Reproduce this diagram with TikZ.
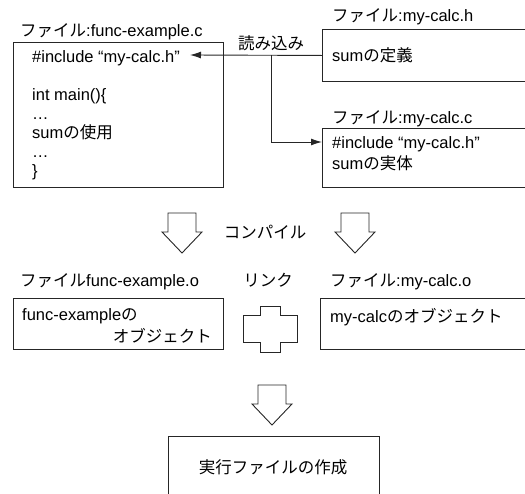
\documentclass[tikz,border=0pt]{standalone}
\usepackage{fontspec}
\setmainfont{Liberation Sans}
\newfontfamily\jp{Noto Sans CJK JP}
\usetikzlibrary{arrows.meta}
\tikzset{
  txt/.style={anchor=base west, inner sep=0pt, font=\fontsize{16.5}{19}\selectfont},
  ctxt/.style={txt, anchor=base},
  box/.style={draw=black!85, line width=0.9pt, anchor=north west, inner sep=0pt},
  conn/.style={draw=black!85, line width=0.9pt},
  tip/.style={-{Latex[length=11pt,width=7pt]}},
  hollowdown/.pic={\draw[black!85, line width=0.9pt, fill=white]
     (-14,0) -- (14,0) -- (14,19) -- (20,19) -- (0,40) -- (-20,19) -- (-14,19) -- cycle;}
}
\begin{document}
\begin{tikzpicture}[x=1pt,y=-1pt]
\useasboundingbox (0,0) rectangle (525,493);
% top left file
\node[txt] (t1) at (20,36) {{\jp ファイル}:func-example.c};
\node[box, minimum width=210pt, minimum height=145pt] (f1) at (13,42) {};
\node[txt] (l1) at (32,62) {\#include “my-calc.h”};
\node[txt] (l2) at (32,100) {int main()\{};
\node[txt] (l3) at (32,119) {…};
\node[txt] (l4) at (32,138) {sum{\jp の使用}};
\node[txt] (l5) at (32,157) {…};
\node[txt] (l6) at (32,176) {\}};
% my-calc.h
\node[txt] (t2) at (332,21) {{\jp ファイル}:my-calc.h};
\node[box, minimum width=230pt, minimum height=52pt] (h) at (322,29) {};
\node[txt] (h1) at (332,61) {sum{\jp の定義}};
% my-calc.c
\node[txt] (t3) at (332,123) {{\jp ファイル}:my-calc.c};
\node[box, minimum width=230pt, minimum height=59pt] (c) at (322,128) {};
\node[txt] (c1) at (332,148) {\#include “my-calc.h”};
\node[txt] (c2) at (332,169) {sum{\jp の実体}};
% read-in connectors
\node[ctxt] (rd) at (271,49) {\jp 読み込み};
\coordinate (tipA) at (190,55);
\coordinate (jn) at (271,55);
\coordinate (jb) at (271,142);
\draw[conn,tip] (h.west) -- (tipA);
\draw[conn,tip] (jn) -- (jb) -- (c.west |- jb);
% compile
\node[ctxt] (cp) at (265,238) {\jp コンパイル};
\pic at (182,213) {hollowdown};
\pic at (355,213) {hollowdown};
% objects
\node[txt] (t4) at (20,286) {{\jp ファイル}func-example.o};
\node[ctxt] (lk) at (268,286) {\jp リンク};
\node[txt] (t5) at (330,286) {{\jp ファイル}:my-calc.o};
\node[box, minimum width=210pt, minimum height=51pt] (o1) at (13,298) {};
\node[txt] (o1a) at (22,320) {func-example{\jp の}};
\node[txt, anchor=base east] (o1b) at (212,342) {\jp オブジェクト};
\draw[black!85, line width=0.9pt]
  (260,306) -- (280,306) -- (280,315) -- (297,315) -- (297,342) -- (280,342)
  -- (280,352) -- (260,352) -- (260,342) -- (243,342) -- (243,315) -- (260,315) -- cycle;
\node[box, minimum width=230pt, minimum height=51pt] (o2) at (320,298) {};
\node[txt] (o2a) at (330,322) {my-calc{\jp のオブジェクト}};
% executable
\pic at (272,385) {hollowdown};
\node[box, minimum width=211pt, minimum height=80pt] (ex) at (168,436) {};
\node[ctxt] (ex1) at (273,473) {\jp 実行ファイルの作成};
\end{tikzpicture}
\end{document}
